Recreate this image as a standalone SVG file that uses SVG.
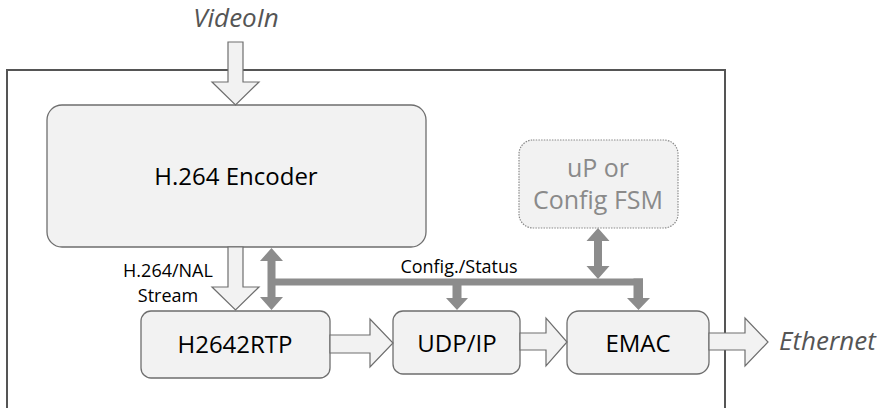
<svg xmlns="http://www.w3.org/2000/svg" width="877" height="408" viewBox="0 0 877 408">
  <style>
    .blk { fill: #f2f2f2; stroke: #6e6e6e; stroke-width: 1.3; }
    .cfg { fill: #f2f2f2; stroke: #8a8a8a; stroke-width: 1.2; stroke-dasharray: 1.5 1.2; }
    .flow { fill: #f2f2f2; stroke: #6e6e6e; stroke-width: 1.2; stroke-linejoin: miter; }
    .ctl { fill: #8c8c8c; stroke: none; }
    .lbl { font-family: "Open Sans", "Noto Sans", sans-serif; fill: #000; text-anchor: middle; }
    .dim { fill: #8a8a8a; }
    .ext { font-family: "Open Sans", "Noto Sans", sans-serif; fill: #555; font-style: italic; }
  </style>

  <!-- system boundary -->
  <path d="M7,420 V70 H725 V420" fill="none" stroke="#555" stroke-width="2"/>

  <!-- external labels -->
  <text class="ext" x="236" y="27" font-size="26" text-anchor="middle">VideoIn</text>
  <text class="ext" x="779" y="350" font-size="26">Ethernet</text>

  <g id="encoder">
    <rect class="blk" x="47" y="105" width="379" height="142" rx="15"/>
    <text class="lbl" x="236" y="185" font-size="24">H.264 Encoder</text>
  </g>

  <g id="config-fsm">
    <rect class="cfg" x="519" y="140" width="159" height="88" rx="14"/>
    <text class="lbl dim" x="598" y="177" font-size="25">uP or</text>
    <text class="lbl dim" x="598" y="209" font-size="25">Config FSM</text>
  </g>

  <g id="h2642rtp">
    <rect class="blk" x="141" y="311" width="189" height="67" rx="10"/>
    <text class="lbl" x="235" y="353" font-size="24">H2642RTP</text>
  </g>

  <g id="udpip">
    <rect class="blk" x="393" y="311" width="127" height="63" rx="10"/>
    <text class="lbl" x="457" y="352" font-size="24">UDP/IP</text>
  </g>

  <g id="emac">
    <rect class="blk" x="567" y="311" width="142" height="63" rx="12"/>
    <text class="lbl" x="638" y="352" font-size="24">EMAC</text>
  </g>

  <g id="connectors">
    <!-- data path (hollow block arrows) -->
    <polygon class="flow" points="228,42 243,42 243,82 259,82 235.5,105 212,82 228,82"/>
    <polygon class="flow" points="228,247 243,247 243,287 259,287 235.5,310 212,287 228,287"/>
    <polygon class="flow" points="330,335 370,335 370,319 393,343 370,367 370,353 330,353"/>
    <polygon class="flow" points="520,333 546,333 546,318 567,342 546,366 546,350 520,350"/>
    <polygon class="flow" points="709,333 745,333 745,318 768,342 745,366 745,350 709,350"/>

    <!-- control bus -->
    <rect class="ctl" x="271" y="278.5" width="372" height="7"/>
    <!-- encoder <-> bus <-> H2642RTP -->
    <polygon class="ctl" points="271.5,248 283,261 275.5,261 275.5,297 283,297 271.5,310 260,297 267.5,297 267.5,261 260,261"/>
    <!-- FSM <-> bus -->
    <polygon class="ctl" points="598,228 609.5,241 602,241 602,266 609.5,266 598,279 586.5,266 594,266 594,241 586.5,241"/>
    <!-- bus -> UDP/IP -->
    <polygon class="ctl" points="452.5,285 461.5,285 461.5,298 468,298 457,310 446,298 452.5,298"/>
    <!-- bus -> EMAC -->
    <polygon class="ctl" points="633.5,278.5 643,278.5 643,298 650,298 638.5,310 627,298 633.5,298"/>

    <text class="lbl" x="459" y="273" font-size="18">Config./Status</text>
    <text class="lbl" x="168" y="277" font-size="18">H.264/NAL</text>
    <text class="lbl" x="168" y="302" font-size="18">Stream</text>
  </g>
</svg>
